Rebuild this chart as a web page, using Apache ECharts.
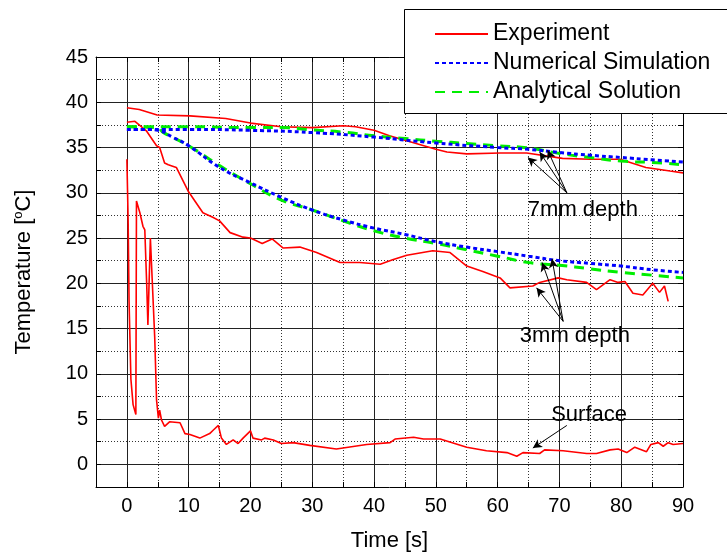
<!DOCTYPE html>
<html>
<head>
<meta charset="utf-8">
<script src="https://cdn.jsdelivr.net/npm/echarts@6/dist/echarts.min.js"></script>
<style>
  html, body { margin: 0; padding: 0; background: #fff; }
  #chart { width: 727px; height: 554px; }
</style>
</head>
<body>
<div id="chart"></div>
<script>
// Time axis ticks and temperature axis ticks
const timeTicks = [0, 10, 20, 30, 40, 50, 60, 70, 80, 90];
const tempTicks = [0, 5, 10, 15, 20, 25, 30, 35, 40, 45];

// Measured temperature, 7 mm below the surface
const exp7Time = [0, 2, 4.9, 10.2, 16, 20, 25, 30, 35, 37, 40, 42.5, 45, 50, 51.8, 55, 60.4, 64.7, 70.5, 75, 79.8, 84, 87.9, 90];
const exp7Temp = [39.4, 39.2, 38.6, 38.5, 38.2, 37.7, 37.3, 37.2, 37.4, 37.3, 36.9, 36.3, 35.8, 34.8, 34.5, 34.3, 34.4, 34.4, 33.8, 33.7, 33.7, 32.8, 32.4, 32.2];

// Measured temperature, 3 mm below the surface
const exp3Time = [0, 1.3, 3.2, 4.8, 5.3, 6.1, 6.7, 8.0, 9.9, 12.3, 13.9, 15.0, 16.7, 18.8, 20.0, 21.9, 23.5, 25.3, 28.0, 30.7, 34.5, 37.7, 41.0, 43.0, 45.3, 49.5, 52.3, 55.0, 57.6, 60.4, 62.0, 65.7, 66.8, 69.8, 71.2, 74.4, 76.0, 78.2, 79.5, 80.6, 81.9, 83.5, 85.1, 86.2, 87.0, 87.6];
const exp3Temp = [37.8, 37.9, 36.8, 35.2, 35.0, 33.3, 33.1, 32.8, 30.2, 27.8, 27.3, 26.9, 25.6, 25.1, 25.0, 24.4, 24.9, 23.9, 24.0, 23.4, 22.3, 22.3, 22.1, 22.6, 23.1, 23.6, 23.4, 21.9, 21.3, 20.6, 19.5, 19.7, 20.1, 20.6, 20.4, 20.1, 19.3, 20.4, 20.1, 20.2, 18.9, 18.7, 20.0, 19.0, 19.7, 18.0];

// Measured surface temperature
const surfTime = [0, 0.2, 0.35, 0.65, 1.0, 1.45, 1.55, 2.1, 2.6, 2.9, 3.2, 3.4, 3.8, 4.0, 4.5, 4.8, 5.1, 5.3, 5.6, 6.1, 6.9, 8.6, 9.4, 10.2, 11.8, 13.4, 14.0, 14.8, 15.3, 16.1, 17.2, 18.0, 18.8, 20.0, 20.4, 21.8, 22.3, 23.7, 25.0, 26.9, 29.6, 33.9, 38.8, 42.6, 43.4, 46.4, 48.0, 50.7, 55.0, 58.2, 61.5, 63.1, 64.1, 66.8, 67.6, 70.6, 74.4, 76.0, 78.2, 79.5, 80.9, 82.2, 84.1, 84.8, 86.0, 86.8, 87.6, 88.4, 90];
const surfTemp = [33.7, 27, 18, 9.4, 6.6, 5.5, 29.1, 27.8, 26.3, 25.9, 20, 15.4, 25.0, 24.8, 14.1, 7.1, 5.1, 6.0, 4.9, 4.2, 4.7, 4.6, 3.4, 3.3, 2.9, 3.4, 3.8, 4.3, 2.9, 2.2, 2.7, 2.3, 2.9, 3.7, 2.9, 2.7, 2.9, 2.7, 2.3, 2.4, 2.1, 1.7, 2.2, 2.4, 2.8, 3.0, 2.8, 2.8, 1.9, 1.5, 1.3, 0.9, 1.3, 1.2, 1.6, 1.5, 1.2, 1.2, 1.6, 1.7, 1.3, 1.9, 1.4, 2.2, 2.4, 2.0, 2.4, 2.2, 2.3];

// Numerical simulation
const num7Time = [0, 10, 20, 30, 40, 50, 60, 65, 70, 75, 80, 85, 90];
const num7Temp = [37.0, 37.0, 36.9, 36.65, 36.15, 35.5, 35.0, 34.8, 34.45, 34.15, 33.9, 33.65, 33.4];
const num3Time = [0, 3, 5, 7.5, 10, 15, 20, 25, 30, 35, 40, 45, 50, 55, 60, 65, 70, 75, 80, 85, 90];
const num3Temp = [37.0, 37.0, 36.9, 36.1, 35.2, 32.8, 31.1, 29.5, 28.1, 27.0, 26.1, 25.4, 24.6, 24.0, 23.5, 23.0, 22.5, 22.2, 21.9, 21.5, 21.2];

// Analytical solution
const ana7Time = [0, 10, 20, 25, 30, 35, 40, 45, 50, 55, 60, 65, 70, 75, 80, 85, 90];
const ana7Temp = [37.3, 37.3, 37.2, 37.2, 36.95, 36.7, 36.3, 36.0, 35.7, 35.45, 35.2, 34.95, 34.35, 33.9, 33.5, 33.35, 33.1];
const ana3Time = [0, 5, 5.8, 10, 15, 20, 25, 30, 35, 40, 45, 50, 55, 60, 65, 70, 75, 80, 85, 90];
const ana3Temp = [37.3, 37.2, 36.7, 35.2, 33.0, 31.0, 29.2, 28.1, 26.9, 25.8, 25.0, 24.4, 23.7, 23.0, 22.3, 22.0, 21.6, 21.2, 20.9, 20.6];

// Annotation labels and arrows, given in data coordinates
const noteLabels = [
  { name: '7mm depth', coord: [73.8, 28.15] },
  { name: '3mm depth', coord: [72.5, 14.2] },
  { name: 'Surface', coord: [74.8, 5.5] }
];
const noteArrows = [
  [[71.2, 30.0], [64.9, 33.9]],
  [[71.2, 30.0], [66.8, 34.5]],
  [[71.2, 30.0], [68.1, 34.7]],
  [[70.6, 15.8], [66.3, 19.5]],
  [[70.6, 15.8], [67.2, 22.3]],
  [[70.6, 15.8], [68.8, 22.7]],
  [[71.2, 4.3], [65.7, 1.8]]
];

const zip = (a, b) => a.map((v, i) => [v, b[i]]);
const FONT = '"Liberation Sans", Arial, sans-serif';

const RED = '#ff0000', BLUE = '#0000ff', GREEN = '#00ee00';

function expSeries(t, v) {
  return {
    name: 'Experiment', type: 'line', data: zip(t, v), symbol: 'none',
    lineStyle: { color: RED, width: 1.6 }, itemStyle: { color: RED }, z: 2, silent: true
  };
}
function numSeries(t, v) {
  return {
    name: 'Numerical Simulation', type: 'line', data: zip(t, v), symbol: 'none', smooth: true,
    lineStyle: { color: BLUE, width: 3, type: [4, 3] }, itemStyle: { color: BLUE }, z: 3, silent: true
  };
}
function anaSeries(t, v) {
  return {
    name: 'Analytical Solution', type: 'line', data: zip(t, v), symbol: 'none', smooth: true,
    lineStyle: { color: GREEN, width: 3, type: [10, 7] }, itemStyle: { color: GREEN }, z: 2, silent: true
  };
}

const chart = echarts.init(document.getElementById('chart'), null, { renderer: 'canvas' });

const xBase = { type: 'value', min: -5, max: 90, interval: 5 };
const yBase = { type: 'value', min: -2.5, max: 45, interval: 2.5 };
const frameLine = { show: true, onZero: false, lineStyle: { color: '#000', width: 1 } };
const inTick = { show: true, inside: true, length: 5, lineStyle: { color: '#000', width: 1 } };

chart.setOption({
  animation: false,
  backgroundColor: '#fff',
  textStyle: { fontFamily: FONT },
  grid: { left: 96, right: 44, top: 57, bottom: 67, outerBoundsMode: 'none', containLabel: false },
  legend: {
    data: ['Experiment', 'Numerical Simulation', 'Analytical Solution'],
    orient: 'vertical', left: 434, top: 22, padding: 0,
    itemWidth: 53, itemHeight: 14, itemGap: 5,
    itemStyle: { opacity: 0 },
    textStyle: { fontFamily: FONT, fontSize: 23, color: '#000', lineHeight: 24 },
    selectedMode: false, z: 5
  },
  graphic: [{
    type: 'rect', z: 4,
    shape: { x: 404.5, y: 9.5, width: 340, height: 104 },
    style: { fill: '#fff', stroke: '#000', lineWidth: 1 }
  }],
  xAxis: [
    Object.assign({}, xBase, {
      position: 'bottom',
      name: 'Time [s]', nameLocation: 'middle', nameGap: 43,
      nameTextStyle: { fontFamily: FONT, fontSize: 22, color: '#000' },
      axisLine: frameLine, axisTick: inTick,
      axisLabel: {
        fontFamily: FONT, fontSize: 20, color: '#000', margin: 9,
        formatter: v => (timeTicks.indexOf(v) >= 0 ? String(v) : '')
      },
      splitLine: { show: true, lineStyle: { color: '#333', width: 1, type: [1, 2] } }
    }),
    Object.assign({}, xBase, {
      position: 'top',
      axisLine: frameLine, axisTick: inTick, axisLabel: { show: false },
      splitLine: { show: true, lineStyle: { color: ['rgba(0,0,0,0)', '#222'], width: 1, type: 'solid' } }
    })
  ],
  yAxis: [
    Object.assign({}, yBase, {
      position: 'left',
      name: 'Temperature [{sup|o}C]', nameLocation: 'middle', nameGap: 60,
      nameTextStyle: {
        fontFamily: FONT, fontSize: 22, color: '#000', lineHeight: 24,
        rich: { sup: { fontFamily: FONT, fontSize: 13, color: '#000', verticalAlign: 'top', lineHeight: 13 } }
      },
      axisLine: frameLine, axisTick: inTick,
      axisLabel: {
        fontFamily: FONT, fontSize: 20, color: '#000', margin: 8,
        formatter: v => (tempTicks.indexOf(v) >= 0 ? String(v) : '')
      },
      splitLine: { show: true, lineStyle: { color: '#333', width: 1, type: [1, 2] } }
    }),
    Object.assign({}, yBase, {
      position: 'right',
      axisLine: frameLine, axisTick: inTick, axisLabel: { show: false },
      splitLine: { show: true, lineStyle: { color: ['rgba(0,0,0,0)', '#222'], width: 1, type: 'solid' } }
    })
  ],
  series: [
    expSeries(exp7Time, exp7Temp),
    expSeries(exp3Time, exp3Temp),
    expSeries(surfTime, surfTemp),
    anaSeries(ana7Time, ana7Temp),
    anaSeries(ana3Time, ana3Temp),
    numSeries(num7Time, num7Temp),
    numSeries(num3Time, num3Temp),
    {
      name: 'notes', type: 'line', data: [], silent: true, z: 6,
      markLine: {
        silent: true, animation: false,
        symbol: ['none', 'arrow'], symbolSize: [7, 9],
        label: { show: false },
        emphasis: { disabled: true },
        lineStyle: { color: '#000', width: 1, type: 'solid', opacity: 1 },
        itemStyle: { color: '#000', opacity: 1 },
        data: noteArrows.map(p => [{ coord: p[0] }, { coord: p[1] }])
      },
      markPoint: {
        silent: true, animation: false,
        symbol: 'circle', symbolSize: 1,
        itemStyle: { color: 'rgba(0,0,0,0)' },
        label: { show: true, position: 'inside', formatter: '{b}', fontFamily: FONT, fontSize: 22, color: '#000' },
        data: noteLabels.map(n => ({ name: n.name, coord: n.coord, value: 0 }))
      }
    }
  ]
});
</script>
</body>
</html>
